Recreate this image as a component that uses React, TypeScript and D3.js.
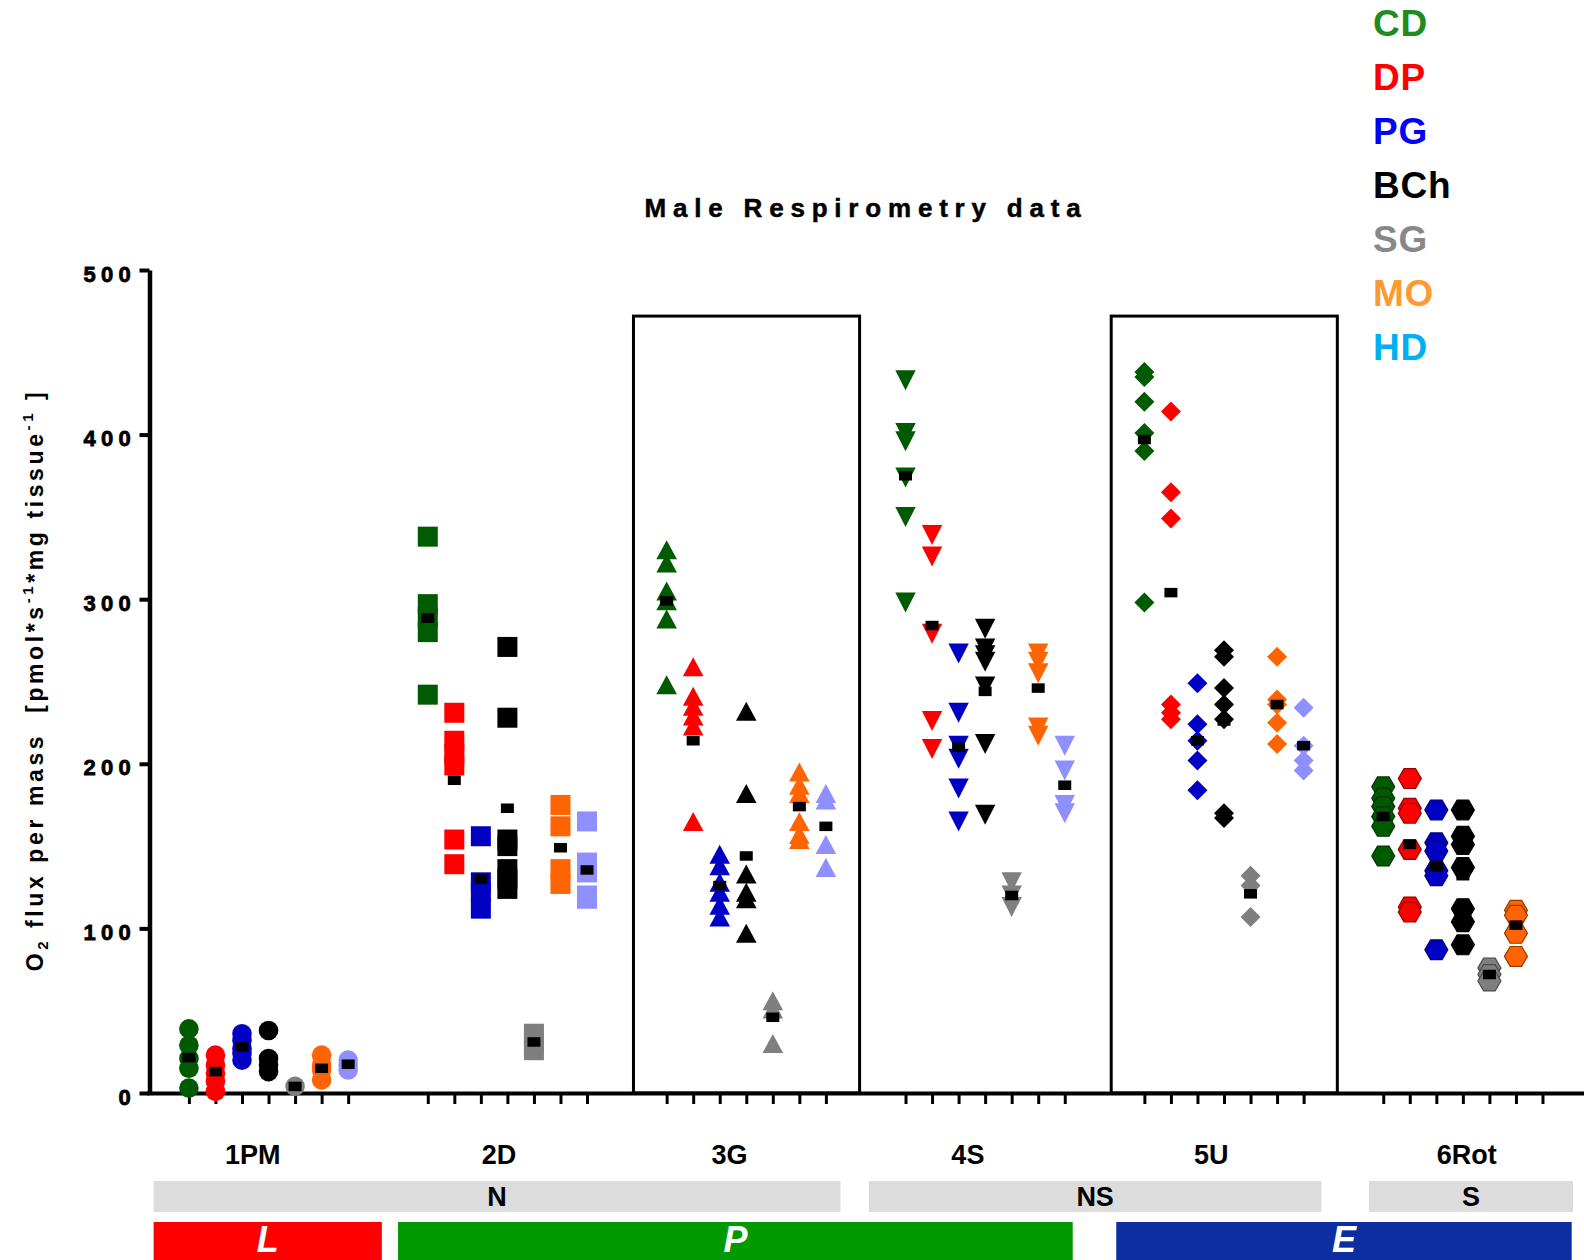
import React, { useEffect, useRef } from 'react';
import * as d3 from 'd3';

const groups = ['1PM', '2D', '3G', '4S', '5U', '6Rot'];
const seriesNames = ['CD', 'DP', 'PG', 'BCh', 'SG', 'MO', 'HD'];
const markerColors = ['#005a00', '#ff0000', '#0000c4', '#000000', '#7f7f7f', '#ff6400', '#8f8fff'];
const legendColors = ['#1e8c1e', '#ff0000', '#0000ff', '#000000', '#888888', '#ff9933', '#00b0f0'];
const groupShapes = ['circle', 'square', 'triangleUp', 'triangleDown', 'diamond', 'hexagon'];

// individual values, one list per group (1PM .. 6Rot)
const cdValues = [
  [39, 29, 21, 15, 3],
  [338, 297, 289, 280, 242],
  [330, 322, 305, 299, 288, 248],
  [433, 401, 396, 374, 350, 298],
  [438, 435, 420, 401, 390, 298],
  [186, 179, 174, 168, 162, 144],
];
const dpValues = [
  [23, 17, 12, 7, 1],
  [231, 214, 206, 199, 154, 139],
  [259, 241, 235, 229, 223, 165],
  [339, 326, 279, 226, 209],
  [414, 365, 349, 236, 231, 227],
  [191, 173, 170, 148, 113, 110],
];
const pgValues = [
  [36, 32, 27, 24, 20],
  [156, 128, 122, 112],
  [145, 138, 128, 122, 114, 107],
  [267, 231, 211, 203, 185, 165],
  [249, 224, 214, 202, 184],
  [172, 152, 147, 135, 132, 87],
];
const bchValues = [
  [38, 21, 17, 13],
  [271, 228, 154, 150, 136, 130, 124],
  [232, 182, 133, 122, 118, 97],
  [282, 270, 266, 262, 247, 212, 169],
  [269, 265, 246, 236, 227, 170, 167],
  [172, 156, 151, 137, 112, 104, 90],
];
const sgValues = [
  [4],
  [36, 30, 26],
  [56, 51, 30],
  [128, 120, 113],
  [132, 126, 107],
  [76, 72, 68],
];
const moValues = [
  [23, 17, 14, 8],
  [175, 162, 136, 127],
  [195, 187, 182, 165, 157, 154],
  [267, 262, 255, 222, 217],
  [265, 239, 236, 225, 212],
  [111, 108, 97, 83],
];
const hdValues = [
  [20, 17, 14],
  [165, 140, 134, 120, 118],
  [182, 178, 151, 137],
  [211, 196, 175, 170],
  [234, 211, 202, 196],
  [],
];

// mean markers
const cdMeans = [21.5, 288.5, 299, 375, 397, 168];
const dpMeans = [13, 190, 214, 284, 304, 151];
const pgMeans = [28, 130, 126, 210, 214, 137.5];
const bchMeans = [22, 173, 144, 244, 226, 132];
const sgMeans = [4, 31, 46, 120, 121, 72];
const moMeans = [15, 149, 174, 246, 236, 102];
const hdMeans = [17.5, 135.5, 162, 187, 211, null];

const allValues = [cdValues, dpValues, pgValues, bchValues, sgValues, moValues, hdValues];
const allMeans = [cdMeans, dpMeans, pgMeans, bchMeans, sgMeans, moMeans, hdMeans];

const yTicks = [0, 100, 200, 300, 400, 500];
const labelShift = [-0.59, -0.32, -0.63, -0.65, -0.48, 0.15];
const boxedGroups = ['3G', '5U'];
const boxTop = 472;

const sampleBands = [
  { label: 'N', from: -1.33, to: 24.55 },
  { label: 'NS', from: 25.62, to: 42.67 },
  { label: 'S', from: 44.46, to: 52.15 },
];
const phaseBands = [
  { label: 'L', from: -1.33, to: 7.27, color: '#ff0000' },
  { label: 'P', from: 7.88, to: 33.3, color: '#009900' },
  { label: 'E', from: 34.94, to: 52.1, color: '#0c2ea0' },
];

const slotsPerGroup = 9;

function shapePath(shape: string): string {
  switch (shape) {
    case 'circle':
      return 'M-9.8,0A9.8,9.8 0 1,0 9.8,0A9.8,9.8 0 1,0 -9.8,0Z';
    case 'square':
      return 'M-10,-10H10V10H-10Z';
    case 'triangleUp':
      return 'M0,-9.5L10.3,9.5L-10.3,9.5Z';
    case 'triangleDown':
      return 'M-10.2,-10L10.2,-10L0,10Z';
    case 'diamond':
      return 'M0,-10L10,0L0,10L-10,0Z';
    default:
      return 'M-11.5,0L-5.75,-9.9L5.75,-9.9L11.5,0L5.75,9.9L-5.75,9.9Z';
  }
}

const App: React.FC = () => {
  const ref = useRef<HTMLDivElement>(null);

  useEffect(() => {
    document.body.style.margin = '0';
    const svgWidth = 1584, svgHeight = 1260;

    d3.select(ref.current).selectAll('*').remove();

    const svg = d3.select(ref.current).append('svg')
      .attr('width', svgWidth)
      .attr('height', svgHeight)
      .style('display', 'block')
      .style('font-family', '"Liberation Sans", Arial, sans-serif');

    const x = d3.scaleLinear().domain([-1.5, 52.5]).range([149.1, 1582.3]);
    const y = d3.scaleLinear().domain([0, 500]).range([1093, 270]);

    // title
    svg.append('text')
      .attr('x', 866)
      .attr('y', 217)
      .attr('text-anchor', 'middle')
      .attr('font-size', 26)
      .attr('font-weight', 'bold')
      .attr('letter-spacing', 6.8)
      .attr('stroke', '#000')
      .attr('stroke-width', 0.5)
      .text('Male Respirometry data');

    // boxes around 3G and 5U
    boxedGroups.forEach(name => {
      const g = groups.indexOf(name);
      const x0 = x(g * slotsPerGroup - 1.25);
      const x1 = x(g * slotsPerGroup + 6 + 1.27);
      svg.append('rect')
        .attr('x', x0)
        .attr('y', y(boxTop))
        .attr('width', x1 - x0)
        .attr('height', y(0) - y(boxTop))
        .attr('fill', 'none')
        .attr('stroke', '#000')
        .attr('stroke-width', 3);
    });

    // y axis
    const yAxis = svg.append('g')
      .attr('transform', 'translate(149.5,0)')
      .call(d3.axisLeft(y).tickValues(yTicks).tickSize(10).tickSizeOuter(0).tickPadding(3.5));
    yAxis.select('.domain').attr('stroke-width', 4.5);
    yAxis.selectAll('.tick line').attr('stroke-width', 4);
    yAxis.selectAll('.tick text')
      .attr('font-size', 22)
      .attr('font-weight', 'bold')
      .attr('letter-spacing', 5.3)
      .attr('font-family', '"Liberation Sans", Arial, sans-serif')
      .attr('dy', '0.5em')
      .attr('fill', '#000')
      .attr('stroke', '#000')
      .attr('stroke-width', 0.8);

    // x axis with one tick per slot
    const slotTicks: number[] = [];
    groups.forEach((_, g) => seriesNames.forEach((__, s) => slotTicks.push(g * slotsPerGroup + s)));
    const xAxis = svg.append('g')
      .attr('transform', `translate(0,${y(0)})`)
      .call(d3.axisBottom(x).tickValues(slotTicks).tickSize(11).tickSizeOuter(0).tickFormat(() => ''));
    xAxis.select('.domain').attr('stroke-width', 4).attr('d', `M${x(-1.5) - 2},0.5H${svgWidth}`);
    xAxis.selectAll('.tick line').attr('stroke-width', 3);

    // y axis title
    const yTitle = svg.append('text')
      .attr('transform', 'translate(43,680) rotate(-90)')
      .attr('text-anchor', 'middle')
      .attr('font-size', 23)
      .attr('font-weight', 'bold')
      .attr('letter-spacing', 3.6)
      .style('white-space', 'pre');
    yTitle.append('tspan').text('O');
    yTitle.append('tspan').attr('font-size', 15).attr('dy', 5).text('2');
    yTitle.append('tspan').attr('dy', -5).text(' flux per mass  [pmol*s');
    yTitle.append('tspan').attr('font-size', 15).attr('dy', -10).text('-1');
    yTitle.append('tspan').attr('dy', 10).text('*mg tissue');
    yTitle.append('tspan').attr('font-size', 15).attr('dy', -10).text('-1');
    yTitle.append('tspan').attr('dy', 10).text(' ]');

    // points
    groups.forEach((_, g) => {
      const shape = groupShapes[g];
      seriesNames.forEach((__, s) => {
        const color = markerColors[s];
        const cx = x(g * slotsPerGroup + s);
        svg.append('g')
          .selectAll('path')
          .data(allValues[s][g])
          .enter().append('path')
          .attr('d', shapePath(shape))
          .attr('transform', d => `translate(${cx},${y(d)})`)
          .attr('fill', color)
          .attr('stroke', shape === 'hexagon' ? d3.color(color)!.darker(1.5).formatHex() : 'none')
          .attr('stroke-width', 1.2);
      });
    });

    // mean markers
    groups.forEach((_, g) => {
      seriesNames.forEach((__, s) => {
        const m = allMeans[s][g];
        if (m == null) return;
        svg.append('rect')
          .attr('x', x(g * slotsPerGroup + s) - 6.5)
          .attr('y', y(m) - 4.75)
          .attr('width', 13)
          .attr('height', 9.5)
          .attr('fill', '#000');
      });
    });

    // group labels
    svg.append('g')
      .selectAll('text')
      .data(groups)
      .enter().append('text')
      .attr('x', (d, g) => x(g * slotsPerGroup + 3 + labelShift[g]))
      .attr('y', 1164)
      .attr('text-anchor', 'middle')
      .attr('font-size', 27)
      .attr('font-weight', 'bold')
      .text(d => d);

    // N / NS / S bands
    sampleBands.forEach(b => {
      svg.append('rect')
        .attr('x', x(b.from))
        .attr('y', 1181)
        .attr('width', x(b.to) - x(b.from))
        .attr('height', 31)
        .attr('fill', '#dcdcdc');
      svg.append('text')
        .attr('x', (x(b.from) + x(b.to)) / 2)
        .attr('y', 1206)
        .attr('text-anchor', 'middle')
        .attr('font-size', 27)
        .attr('font-weight', 'bold')
        .text(b.label);
    });

    // L / P / E bands
    phaseBands.forEach(b => {
      svg.append('rect')
        .attr('x', x(b.from))
        .attr('y', 1222)
        .attr('width', x(b.to) - x(b.from))
        .attr('height', 40)
        .attr('fill', b.color);
      svg.append('text')
        .attr('x', (x(b.from) + x(b.to)) / 2)
        .attr('y', 1252)
        .attr('text-anchor', 'middle')
        .attr('font-size', 36)
        .attr('font-weight', 'bold')
        .attr('font-style', 'italic')
        .attr('fill', '#fff')
        .text(b.label);
    });

    // legend
    svg.append('g')
      .selectAll('text')
      .data(seriesNames)
      .enter().append('text')
      .attr('x', 1373)
      .attr('y', (d, i) => 36 + i * 54)
      .attr('font-size', 37)
      .attr('font-weight', 'bold')
      .attr('letter-spacing', 0.8)
      .attr('fill', (d, i) => legendColors[i])
      .text(d => d);
  }, []);

  return <div ref={ref} />;
};

export default App;
